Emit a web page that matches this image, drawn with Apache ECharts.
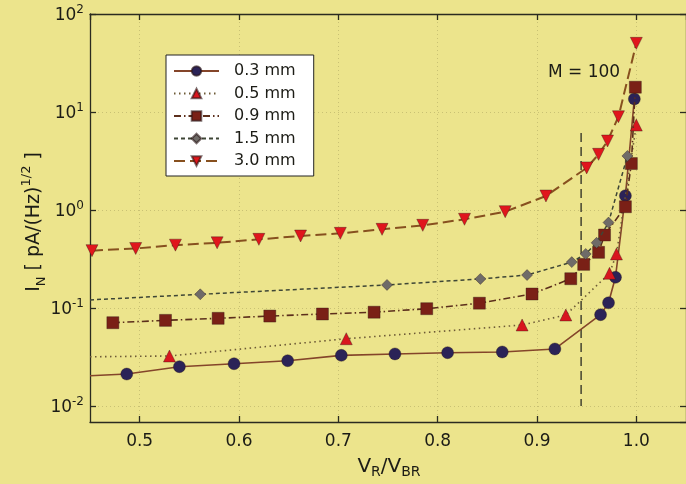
<!DOCTYPE html>
<html>
<head>
<meta charset="utf-8">
<script src="https://cdn.jsdelivr.net/npm/echarts@6/dist/echarts.min.js"></script>
<style>
html,body{margin:0;padding:0;background:#ECE48C;}
#c{width:686px;height:484px;}
</style>
</head>
<body>
<div id="c"></div>
<script>
// ---- data ----
const seriesNames = ['0.3 mm', '0.5 mm', '0.9 mm', '1.5 mm', '3.0 mm'];

const vr03 = [0.45, 0.487, 0.540, 0.595, 0.649, 0.703, 0.757, 0.810, 0.865, 0.918, 0.964, 0.972, 0.979, 0.989, 0.998];
const in03 = [0.0204, 0.0212, 0.0252, 0.0270, 0.0290, 0.0329, 0.0340, 0.0350, 0.0356, 0.0382, 0.0855, 0.113, 0.206, 1.40, 13.6];

const vr05 = [0.45, 0.530, 0.708, 0.885, 0.929, 0.973, 0.980, 1.000];
const in05 = [0.0318, 0.0324, 0.0486, 0.0671, 0.0849, 0.226, 0.356, 7.36];

const vr09 = [0.473, 0.526, 0.579, 0.631, 0.684, 0.736, 0.789, 0.842, 0.895, 0.934, 0.947, 0.962, 0.968, 0.989, 0.995, 0.999];
const in09 = [0.0708, 0.0748, 0.0785, 0.0828, 0.0869, 0.0906, 0.0984, 0.112, 0.139, 0.199, 0.279, 0.370, 0.556, 1.08, 2.98, 17.9];

const vr15 = [0.45, 0.561, 0.749, 0.843, 0.890, 0.935, 0.949, 0.960, 0.972, 0.991];
const in15 = [0.121, 0.138, 0.172, 0.198, 0.217, 0.294, 0.356, 0.463, 0.745, 3.56];

const vr30 = [0.452, 0.496, 0.536, 0.578, 0.620, 0.662, 0.702, 0.744, 0.785, 0.827, 0.868, 0.909, 0.950, 0.962, 0.971, 0.982, 1.000];
const in30 = [0.385, 0.405, 0.438, 0.463, 0.502, 0.543, 0.578, 0.635, 0.698, 0.804, 0.962, 1.39, 2.69, 3.70, 5.06, 8.95, 50.2];

const mLineX = [0.9444, 0.9444];
const mLineY = [6.1, 0.0100];

const xTickLabels = ['0.5', '0.6', '0.7', '0.8', '0.9', '1.0'];
const yTickExps = [-2, -1, 0, 1, 2];

// ---- build ----
const FONT = 'DejaVu Sans';
const TXT = '#1c1c16';

function pts(xs, ys) {
  return xs.map((x, i) => x <= 0.4501 ? { value: [x, ys[i]], symbol: 'none' } : [x, ys[i]]);
}

const styles = [
  { line: '#84452a', type: 'solid', width: 1.6, sym: 'circle', size: 12, color: '#2b2357', rot: 0 },
  { line: '#6d5a36', type: [1.5, 3.5], width: 1.6, sym: 'triangle', size: 12, color: '#d8161e', rot: 0 },
  { line: '#5c2f1c', type: [7, 3, 1.5, 3], width: 1.6, sym: 'rect', size: 12, color: '#7a2016', rot: 0 },
  { line: '#3e4636', type: [4, 3], width: 1.5, sym: 'diamond', size: 11, color: '#6f6b68', rot: 0 },
  { line: '#87501f', type: [11, 5], width: 2, sym: 'triangle', size: 12, color: '#e0161c', rot: 180 }
];
const dataSets = [[vr03, in03], [vr05, in05], [vr09, in09], [vr15, in15], [vr30, in30]];

const series = dataSets.map((d, k) => ({
  name: seriesNames[k],
  type: 'line',
  xAxisIndex: 0, yAxisIndex: 0,
  data: pts(d[0], d[1]),
  symbol: styles[k].sym,
  symbolSize: styles[k].size,
  symbolRotate: styles[k].rot,
  showAllSymbol: true,
  lineStyle: { color: styles[k].line, type: styles[k].type, width: styles[k].width },
  itemStyle: { color: styles[k].color, borderColor: 'rgba(40,20,20,0.6)', borderWidth: 0.6 },
  emphasis: { disabled: true },
  z: 3 + k
}));

series.push({
  name: 'M100',
  type: 'line',
  data: mLineX.map((x, i) => [x, mLineY[i]]),
  symbol: 'none',
  lineStyle: { color: '#2a2a22', type: [9, 5], width: 1.3 },
  emphasis: { disabled: true },
  z: 2
});

const gridLine = { show: true, lineStyle: { color: 'rgba(150,140,80,0.4)', type: [1, 3], width: 1 } };
const axisLineStyle = { color: '#2b2b20', width: 1.3 };

const option = {
  animation: false,
  backgroundColor: '#ECE48C',
  grid: { left: 90, top: 14, width: 597, height: 408, show: false },
  xAxis: [{
    type: 'value', min: 0.45, max: 1.05, position: 'bottom',
    axisLine: { show: true, lineStyle: axisLineStyle },
    axisTick: { show: true, inside: true, length: 6, lineStyle: axisLineStyle },
    axisLabel: {
      showMinLabel: false, showMaxLabel: false, margin: 11,
      fontSize: 17, color: TXT, fontFamily: FONT,
      formatter: v => { const s = v.toFixed(1); return xTickLabels.includes(s) && Math.abs(v * 10 - Math.round(v * 10)) < 1e-6 ? s : ''; }
    },
    splitLine: gridLine
  }, {
    type: 'value', min: 0.45, max: 1.05, position: 'top',
    axisLine: { show: true, lineStyle: axisLineStyle },
    axisTick: { show: true, inside: true, length: 6, lineStyle: axisLineStyle },
    axisLabel: { show: false },
    splitLine: { show: false }
  }],
  yAxis: [{
    type: 'log', logBase: 10, min: 0.00687, max: 100, position: 'left',
    axisLine: { show: true, lineStyle: axisLineStyle },
    axisTick: { show: true, inside: true, length: 6, lineStyle: axisLineStyle },
    axisLabel: {
      showMinLabel: false, margin: 6, color: TXT, fontFamily: FONT,
      formatter: v => {
        const e = Math.log10(v), r = Math.round(e);
        if (Math.abs(e - r) > 0.01 || !yTickExps.includes(r)) return '';
        return '{b|10}{s|' + r + '}';
      },
      rich: {
        b: { fontSize: 17, color: TXT, fontFamily: FONT, verticalAlign: 'bottom' },
        s: { fontSize: 12, color: TXT, fontFamily: FONT, verticalAlign: 'bottom', padding: [0, 0, 8, 0] }
      }
    },
    splitLine: gridLine
  }, {
    type: 'log', logBase: 10, min: 0.00687, max: 100, position: 'right',
    axisLine: { show: true, lineStyle: axisLineStyle },
    axisTick: { show: true, inside: true, length: 6, lineStyle: axisLineStyle },
    axisLabel: { show: false },
    splitLine: { show: false }
  }],
  legend: {
    data: seriesNames,
    orient: 'vertical',
    left: 166, top: 55,
    backgroundColor: '#ffffff',
    borderColor: '#222', borderWidth: 1, borderRadius: 0,
    padding: [7, 18, 6, 7],
    itemWidth: 45, itemHeight: 12, itemGap: 4.5,
    textStyle: { fontSize: 16, lineHeight: 18, color: TXT, fontFamily: FONT, padding: [0, 0, 0, 10] },
    selectedMode: false
  },
  graphic: [
    {
      type: 'text', x: 584, y: 73,
      style: { text: 'M = 100', fontSize: 17, fill: TXT, fontFamily: FONT, align: 'center', verticalAlign: 'middle' }
    },
    {
      type: 'text', x: 389, y: 468,
      style: {
        text: '{m|V}{d|R}{m|/V}{d|BR}', align: 'center', verticalAlign: 'middle',
        rich: {
          m: { fontSize: 20, fill: TXT, fontFamily: FONT, verticalAlign: 'top' },
          d: { fontSize: 14, fill: TXT, fontFamily: FONT, verticalAlign: 'top', padding: [9, 0, 0, 0] }
        }
      }
    },
    {
      type: 'text', x: 34, y: 222, rotation: Math.PI / 2,
      style: {
        text: '{m|I}{d|N}{m| [ pA/(Hz)}{u|1/2}{m| ]}', align: 'center', verticalAlign: 'middle',
        rich: {
          m: { fontSize: 19, fill: TXT, fontFamily: FONT, verticalAlign: 'top', padding: [5, 0, 0, 0] },
          d: { fontSize: 13, fill: TXT, fontFamily: FONT, verticalAlign: 'top', padding: [15, 0, 0, 0] },
          u: { fontSize: 13, fill: TXT, fontFamily: FONT, verticalAlign: 'top', padding: [0, 0, 0, 0] }
        }
      }
    }
  ],
  series: series
};

const chart = echarts.init(document.getElementById('c'), null, { renderer: 'canvas' });
chart.setOption(option);
</script>
</body>
</html>
